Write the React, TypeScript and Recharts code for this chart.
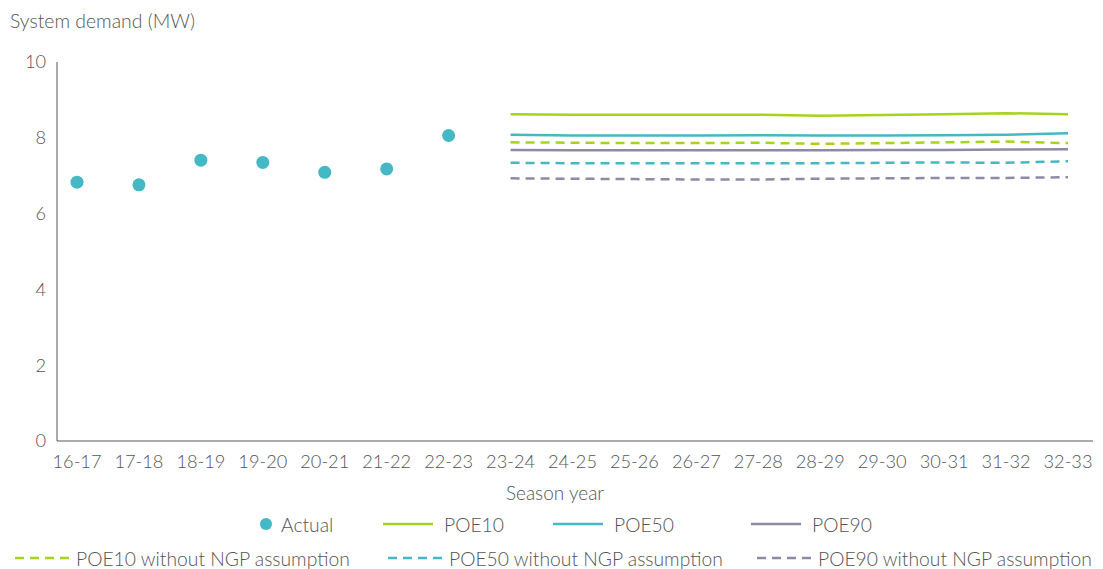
import { LineChart, Line, XAxis, YAxis } from 'recharts';

const seasons = ['16-17', '17-18', '18-19', '19-20', '20-21', '21-22', '22-23', '23-24', '24-25', '25-26', '26-27', '27-28', '28-29', '29-30', '30-31', '31-32', '32-33'];
const actual = [6.83, 6.76, 7.41, 7.35, 7.09, 7.18, 8.06];
const poe10 = [8.62, 8.61, 8.61, 8.61, 8.61, 8.58, 8.6, 8.62, 8.65, 8.62];
const poe50 = [8.08, 8.06, 8.06, 8.06, 8.07, 8.06, 8.06, 8.07, 8.08, 8.12];
const poe90 = [7.68, 7.67, 7.67, 7.67, 7.67, 7.67, 7.68, 7.68, 7.69, 7.7];
const poe10NoNgp = [7.88, 7.87, 7.86, 7.86, 7.87, 7.84, 7.86, 7.88, 7.9, 7.86];
const poe50NoNgp = [7.34, 7.33, 7.33, 7.33, 7.33, 7.33, 7.34, 7.35, 7.34, 7.38];
const poe90NoNgp = [6.93, 6.92, 6.91, 6.9, 6.9, 6.92, 6.93, 6.94, 6.94, 6.96];
const yTicks = [0, 2, 4, 6, 8, 10];

const GREEN = '#a5d41d';
const TEAL = '#45b8c5';
const PURPLE = '#8d8aa6';
const TEXT = '#555555';
const FONT = 'Lato, sans-serif';

const forecastStart = actual.length;
const data = seasons.map((s, i) => {
  const f = i - forecastStart;
  return {
    season: s,
    actual: i < actual.length ? actual[i] : null,
    poe10: f >= 0 ? poe10[f] : null,
    poe50: f >= 0 ? poe50[f] : null,
    poe90: f >= 0 ? poe90[f] : null,
    poe10n: f >= 0 ? poe10NoNgp[f] : null,
    poe50n: f >= 0 ? poe50NoNgp[f] : null,
    poe90n: f >= 0 ? poe90NoNgp[f] : null,
  };
});

const legendRow1 = [
  { label: 'Actual', color: TEAL, kind: 'dot', left: 258 },
  { label: 'POE10', color: GREEN, kind: 'line', left: 383 },
  { label: 'POE50', color: TEAL, kind: 'line', left: 553 },
  { label: 'POE90', color: PURPLE, kind: 'line', left: 751 },
];
const legendRow2 = [
  { label: 'POE10 without NGP assumption', color: GREEN, kind: 'dash', left: 15 },
  { label: 'POE50 without NGP assumption', color: TEAL, kind: 'dash', left: 388 },
  { label: 'POE90 without NGP assumption', color: PURPLE, kind: 'dash', left: 757 },
];

function LegendItem({ item, top }: { item: any; top: number }) {
  return (
    <div style={{ position: 'absolute', left: item.left, top, display: 'flex', alignItems: 'center', height: 22 }}>
      <svg width={item.kind === 'dot' ? 16 : 54} height={14} style={{ marginRight: 7 }}>
        {item.kind === 'dot' && <circle cx={8} cy={7} r={6} fill={item.color} />}
        {item.kind === 'line' && <line x1={0} x2={50} y1={7} y2={7} stroke={item.color} strokeWidth={2.5} />}
        {item.kind === 'dash' && <line x1={0} x2={54} y1={7} y2={7} stroke={item.color} strokeWidth={2.5} strokeDasharray="9 6" />}
      </svg>
      <span style={{ fontSize: 19.3, color: TEXT, fontWeight: 300, whiteSpace: 'nowrap' }}>{item.label}</span>
    </div>
  );
}

export default function App() {
  const dash = '9 6';
  return (
    <div style={{ position: 'absolute', left: 0, top: 0, width: 1103, height: 569, fontFamily: FONT, background: '#fff' }}>
      <div style={{ position: 'absolute', left: 10, top: 9, fontSize: 19.4, color: TEXT, fontWeight: 300 }}>System demand (MW)</div>
      <LineChart width={1103} height={569} data={data} margin={{ top: 62, right: 10, bottom: 68, left: 0 }}>
        <XAxis
          dataKey="season"
          padding={{ left: 20, right: 25 }}
          tickLine={false}
          tickSize={0}
          tickMargin={14}
          height={60}
          stroke="#595959"
          tick={{ fill: TEXT, fontSize: 18.2, fontFamily: FONT, fontWeight: 300 }}
          interval={0}
        />
        <YAxis
          domain={[0, 10]}
          ticks={yTicks}
          width={57}
          tickLine={false}
          tickSize={0}
          tickMargin={11}
          stroke="#595959"
          tick={{ fill: TEXT, fontSize: 18.2, fontFamily: FONT, fontWeight: 300 }}
        />
        <Line dataKey="poe10" stroke={GREEN} strokeWidth={2.5} dot={false} isAnimationActive={false} />
        <Line dataKey="poe50" stroke={TEAL} strokeWidth={2.5} dot={false} isAnimationActive={false} />
        <Line dataKey="poe90" stroke={PURPLE} strokeWidth={2.5} dot={false} isAnimationActive={false} />
        <Line dataKey="poe10n" stroke={GREEN} strokeWidth={2.5} strokeDasharray={dash} dot={false} isAnimationActive={false} />
        <Line dataKey="poe50n" stroke={TEAL} strokeWidth={2.5} strokeDasharray={dash} dot={false} isAnimationActive={false} />
        <Line dataKey="poe90n" stroke={PURPLE} strokeWidth={2.5} strokeDasharray={dash} dot={false} isAnimationActive={false} />
        <Line
          dataKey="actual"
          stroke="none"
          dot={{ r: 6.5, fill: TEAL, stroke: 'none' }}
          activeDot={false}
          isAnimationActive={false}
        />
      </LineChart>
      <div style={{ position: 'absolute', left: 0, width: 1110, top: 481, textAlign: 'center', fontSize: 19, color: TEXT, fontWeight: 300 }}>Season year</div>
      {legendRow1.map((it) => <LegendItem key={it.label} item={it} top={513} />)}
      {legendRow2.map((it) => <LegendItem key={it.label} item={it} top={547} />)}
    </div>
  );
}
